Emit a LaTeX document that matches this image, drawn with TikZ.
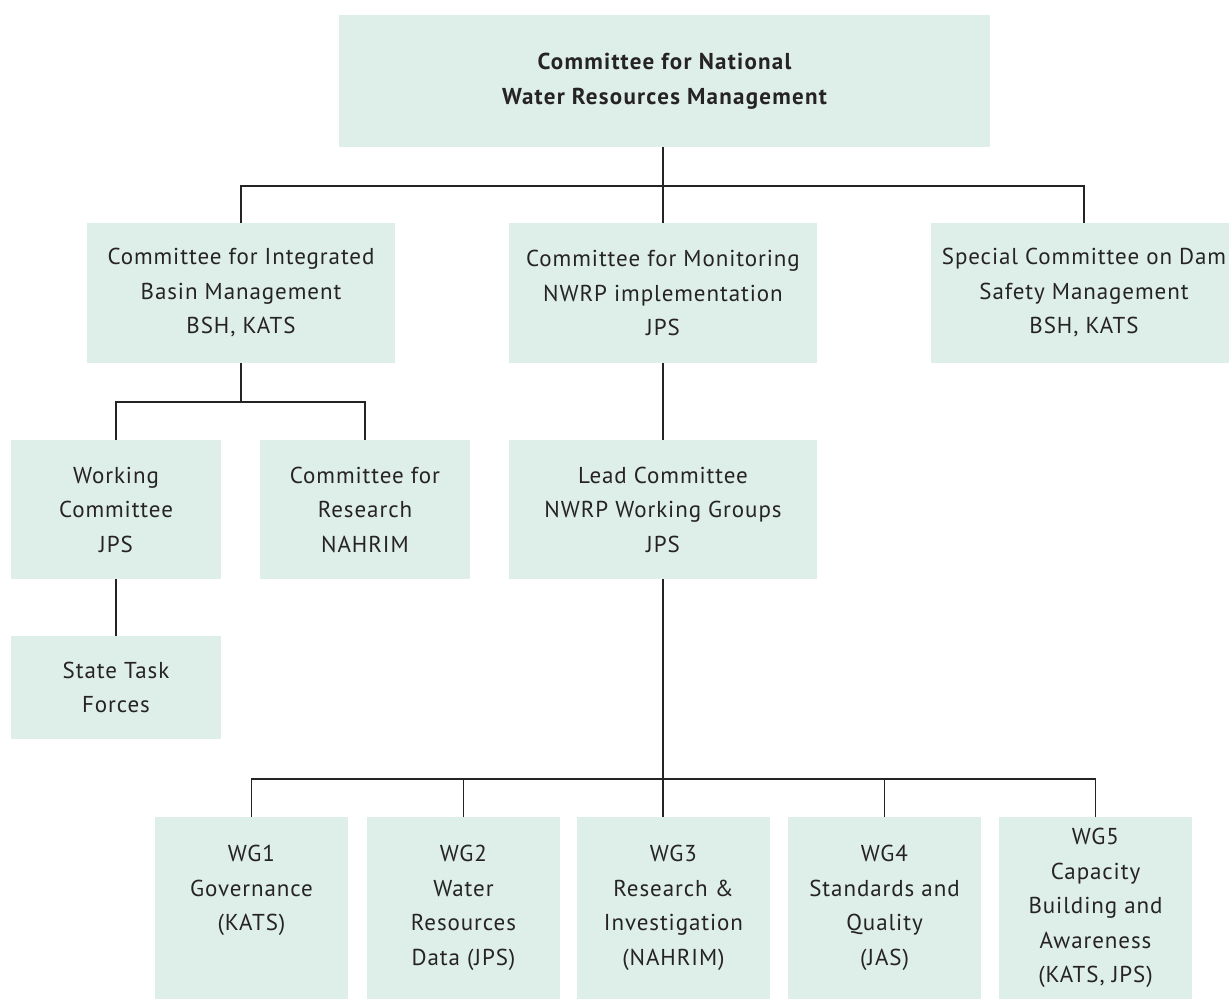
\documentclass[tikz,border=0pt]{standalone}
\usepackage{fontspec}
\setmainfont[LetterSpace=4]{PT Sans}
\usepackage{tikz}
\usetikzlibrary{positioning,calc}
\definecolor{boxfill}{HTML}{DEEEE9}
\definecolor{ink}{HTML}{262324}

\begin{document}
\begin{tikzpicture}[x=1pt,y=-1pt,
  box/.style={fill=boxfill,text=ink,inner sep=0pt,align=center,
    font=\fontsize{23}{34.5}\selectfont},
  link/.style={draw=ink,line width=1.1pt}]
  \useasboundingbox (0,0) rectangle (1229,999);
  \clip (0,0) rectangle (1229,999);
  % top level
  \node[box,minimum width=651,minimum height=132,
    font=\fontsize{23}{34.5}\selectfont\bfseries\addfontfeature{LetterSpace=5.5}] (top) at (664.5,81)
    {Committee for National\\Water Resources Management};
  % second row
  \node[box,minimum width=308,minimum height=140] (ibm) at (241,293) {Committee for Integrated\\Basin Management\\BSH, KATS};
  \node[box,minimum width=308,minimum height=140] (mon) at (663,293) {Committee for Monitoring\\NWRP implementation\\JPS};
  \node[box,minimum width=306,minimum height=140] (dam) at (1084,293) {Special Committee on Dam\\Safety Management\\BSH, KATS};
  % third row
  \node[box,minimum width=210,minimum height=139.5] (wc) at (116,509.5) {Working\\Committee\\JPS};
  \node[box,minimum width=210,minimum height=139.5] (res) at (365,509.5) {Committee for\\Research\\NAHRIM};
  \node[box,minimum width=308,minimum height=139.5] (lead) at (663,509.5) {Lead Committee\\NWRP Working Groups\\JPS};
  \node[box,minimum width=210,minimum height=103] (stf) at (116,687.5) {State Task\\Forces};
  % working groups
  \node[box,minimum width=193,minimum height=182] (wg1) at (251.5,908) {WG1\\Governance\\(KATS)\\\phantom{()}};
  \node[box,minimum width=193,minimum height=182] (wg2) at (463.5,908) {WG2\\Water\\Resources\\Data (JPS)};
  \node[box,minimum width=193,minimum height=182] (wg3) at (673.5,908) {WG3\\Research \&\\Investigation\\(NAHRIM)};
  \node[box,minimum width=193,minimum height=182] (wg4) at (884.5,908) {WG4\\Standards and\\Quality\\(JAS)};
  \node[box,minimum width=193,minimum height=182] (wg5) at (1095.5,908) {WG5\\Capacity\\Building and\\Awareness\\(KATS, JPS)};
  % connectors
  \coordinate (bus1) at (663,186);
  \coordinate (bus2) at (241,402);
  \coordinate (bus3) at (663,779);
  \draw[link] (top.south -| bus1) -- (bus1);
  \draw[link] (ibm.north) |- (bus1) -| (dam.north);
  \draw[link] (mon.north) -- (bus1);
  \draw[link] (ibm.south) -- (bus2);
  \draw[link] (wc.north) |- (bus2) -| (res.north);
  \draw[link] (mon.south) -- (lead.north);
  \draw[link] (wc.south) -- (stf.north);
  \draw[link] (lead.south) -- (bus3);
  \draw[link] (wg1.north) |- (bus3) -| (wg5.north);
  \draw[link] (wg2.north) -- (wg2.north |- bus3);
  \draw[link] (wg3.north -| bus3) -- (bus3);
  \draw[link] (wg4.north) -- (wg4.north |- bus3);
\end{tikzpicture}
\end{document}
